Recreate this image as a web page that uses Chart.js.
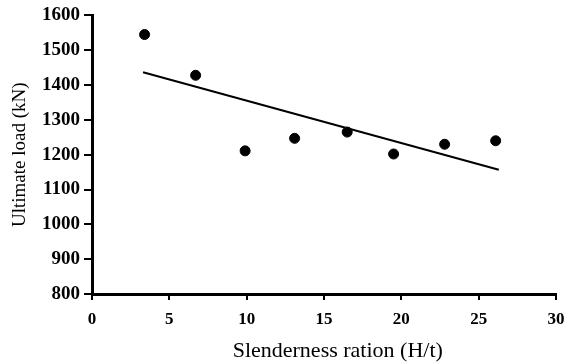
<!DOCTYPE html>
<html>
<head>
<meta charset="utf-8">
<script src="https://cdn.jsdelivr.net/npm/chart.js@4/dist/chart.umd.min.js"></script>
<style>
html,body{margin:0;padding:0;background:#fff;}
#wrap{width:565px;height:364px;position:relative;}
</style>
</head>
<body>
<div id="wrap"><canvas id="c"></canvas></div>
<script>
const slenderness = [3.4, 6.7, 9.9, 13.1, 16.5, 19.5, 22.8, 26.1];
const ultimateLoad = [1545, 1428, 1211, 1247, 1265, 1202, 1230, 1240];
const trendX = [3.3, 26.3];
const trendY = [1437, 1157];
const xTitle = '\u00A0\u00A0\u00A0\u00A0\u00A0Slenderness ration (H/t)';
const yTitle = 'Ultimate load (kN)';

const pts = slenderness.map((x, i) => ({x: x, y: ultimateLoad[i]}));
const trend = trendX.map((x, i) => ({x: x, y: trendY[i]}));

const serif = '"Liberation Serif", "Times New Roman", serif';

new Chart(document.getElementById('c'), {
  type: 'scatter',
  data: {
    datasets: [
      {data: pts, backgroundColor: '#000', borderColor: '#000', pointRadius: 5, pointHoverRadius: 5, showLine: false},
      {data: trend, type: 'line', borderColor: '#000', borderWidth: 2, pointRadius: 0, fill: false, tension: 0}
    ]
  },
  options: {
    responsive: true,
    maintainAspectRatio: false,
    animation: false,
    layout: {padding: {top: 14, right: 9, left: 0, bottom: 0}},
    plugins: {legend: {display: false}, tooltip: {enabled: false}},
    scales: {
      x: {
        type: 'linear', min: 0, max: 30,
        ticks: {stepSize: 5, color: '#000', font: {family: serif, size: 17, weight: 'bold'}, padding: 9, callback: v => String(v)},
        grid: {display: true, drawOnChartArea: false, drawTicks: true, tickLength: 6, color: '#000', lineWidth: 2},
        border: {display: true, color: '#000', width: 3},
        title: {display: true, text: xTitle, color: '#000', font: {family: serif, size: 22, weight: 'normal'}, padding: {top: 4, bottom: 0}},
        afterFit: s => { s.height = 70; s.paddingRight = 0; }
      },
      y: {
        type: 'linear', min: 800, max: 1600,
        ticks: {stepSize: 100, color: '#000', font: {family: serif, size: 19, weight: 'bold'}, padding: 4, callback: v => String(v)},
        grid: {display: true, drawOnChartArea: false, drawTicks: true, tickLength: 8, color: '#000', lineWidth: 2},
        border: {display: true, color: '#000', width: 3},
        title: {display: true, text: yTitle, color: '#000', font: {family: serif, size: 19, weight: 'normal'}, padding: {top: 9, bottom: 4}},
        afterFit: s => { s.width = 92; }
      }
    }
  }
});
</script>
</body>
</html>
